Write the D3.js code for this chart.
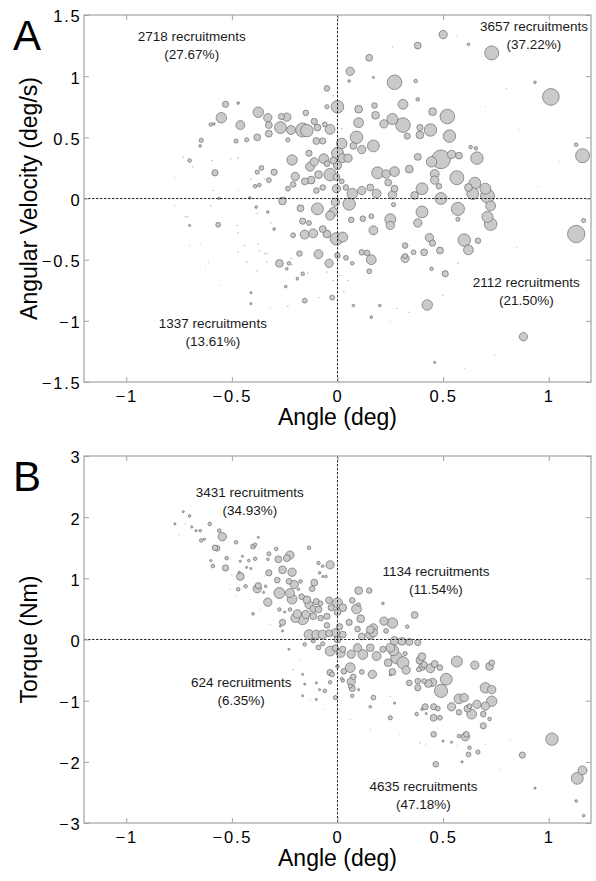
<!DOCTYPE html>
<html>
<head>
<meta charset="utf-8">
<script src="https://cdn.jsdelivr.net/npm/d3@7"></script>
<style>
  body { margin: 0; background: #fff; }
  svg { font-family: "Liberation Sans", Arial, Helvetica, sans-serif; }
</style>
</head>
<body>
<svg id="fig" width="596" height="881"></svg>
<script>
// Shared angle axis
const angleTicks = [-1, -0.5, 0, 0.5, 1];
const angleDomain = [-1.2, 1.2];

// Panel A: angular velocity vs angle, [angle (deg), velocity (deg/s), recruitments in bin]
const velocityTicks = [-1.5, -1, -0.5, 0, 0.5, 1, 1.5];
const velocityBins = [
  [0.50,1.34,59],[0.38,1.25,40],[0.62,1.26,6],[0.73,1.19,166],[0.15,1.15,40],[0.06,1.04,59],[0.055,0.96,6],[0.17,0.99,4],
  [0.27,0.95,181],[0.37,0.96,11],[0.935,0.95,6],[1.01,0.83,237],[0.38,0.81,11],[-0.05,0.90,27],[0.00,0.75,133],[-0.05,0.75,15],
  [0.10,0.73,51],[0.175,0.76,27],[0.31,0.77,82],[0.45,0.71,51],[0.52,0.67,181],[0.26,0.65,104],[0.22,0.61,59],[0.31,0.60,181],
  [0.39,0.58,33],[0.39,0.52,51],[0.44,0.56,133],[0.33,0.51,33],[0.53,0.51,133],[0.655,0.41,11],[0.49,0.32,300],[0.445,0.30,93],
  [0.54,0.36,59],[0.575,0.35,40],[0.66,0.33,133],[0.63,0.42,11],[1.13,0.44,11],[1.16,0.35,166],[0.38,0.34,40],[0.34,0.24,51],
  [0.27,0.22,82],[0.23,0.20,59],[0.24,0.13,40],[0.46,0.20,68],[0.46,0.15,59],[0.48,0.10,27],[0.565,0.17,166],[0.65,0.125,120],
  [0.62,0.09,51],[0.64,0.04,120],[0.70,0.08,104],[0.71,0.02,166],[0.725,-0.06,82],[0.40,0.08,120],[0.365,0.025,51],[0.26,0.03,59],
  [0.27,0.08,40],[0.49,0.00,120],[0.265,-0.05,15],[0.40,-0.11,120],[0.57,-0.085,147],[0.57,-0.17,15],[0.71,-0.15,104],[0.725,-0.21,133],
  [0.25,-0.17,104],[0.25,-0.22,59],[0.38,-0.20,59],[1.13,-0.29,255],[1.165,-0.18,15],[0.435,-0.32,59],[0.45,-0.365,33],[0.60,-0.34,133],
  [0.62,-0.42,82],[0.665,-0.345,27],[0.41,-0.44,40],[0.485,-0.425,40],[0.32,-0.385,27],[0.32,-0.49,59],[0.32,-0.47,20],[0.51,-0.615,33],
  [0.445,-0.575,11],[0.425,-0.87,93],[0.88,-1.13,59],[0.46,-1.34,4],
  [-0.53,0.77,33],[-0.47,0.78,6],[-0.55,0.66,93],[-0.46,0.60,68],[-0.375,0.705,93],[-0.33,0.66,59],[-0.265,0.67,33],[-0.24,0.665,59],
  [-0.15,0.70,27],[-0.27,0.58,120],[-0.22,0.56,68],[-0.165,0.56,166],[-0.145,0.555,133],[-0.11,0.63,33],[-0.095,0.58,40],[-0.035,0.565,82],
  [-0.06,0.605,20],[-0.325,0.60,40],[-0.325,0.53,40],[-0.38,0.50,40],[-0.43,0.48,15],[-0.48,0.47,15],[-0.10,0.47,40],[-0.07,0.47,33],
  [-0.235,0.48,15],[0.02,0.45,93],[0.09,0.50,133],[0.18,0.68,51],[0.10,0.62,82],[0.075,0.43,40],[0.115,0.40,59],[0.17,0.43,120],
  [0.00,0.37,120],[-0.065,0.325,82],[0.025,0.33,68],[0.05,0.33,59],[-0.02,0.31,40],[-0.215,0.315,93],[-0.135,0.37,33],[-0.11,0.30,59],
  [-0.13,0.26,68],[-0.05,0.285,27],[0.00,0.27,59],[-0.035,0.195,133],[-0.09,0.195,51],[-0.005,0.175,40],[-0.20,0.18,59],[-0.125,0.15,51],
  [-0.155,0.14,40],[-0.07,0.09,27],[-0.10,0.065,27],[0.02,0.14,20],[-0.005,0.08,59],[0.04,0.09,27],[0.07,0.04,93],[0.055,-0.045,133],
  [0.115,0.065,59],[0.155,0.09,40],[0.185,0.04,68],[0.19,0.21,120],[-0.26,-0.02,51],[-0.175,-0.08,40],[-0.095,-0.085,120],[-0.02,-0.11,68],
  [-0.035,-0.14,68],[-0.01,-0.03,59],[-0.58,0.21,33],[-0.38,0.215,15],[-0.36,0.25,20],[-0.30,0.215,33],[-0.325,0.15,20],[-0.37,0.11,11],
  [-0.39,0.10,11],[-0.21,0.115,27],[-0.235,0.08,20],[-0.165,-0.185,33],[-0.135,-0.20,20],[-0.21,-0.30,20],[-0.155,-0.295,68],[-0.115,-0.285,68],
  [-0.07,-0.25,40],[-0.05,-0.29,51],[-0.005,-0.33,133],[0.025,-0.315,82],[0.065,-0.175,27],[0.12,-0.165,27],[0.16,-0.145,20],[0.17,-0.26,68],
  [-0.09,-0.455,68],[-0.18,-0.45,27],[-0.04,-0.53,59],[0.00,-0.465,27],[0.04,-0.485,20],[0.115,-0.44,27],[0.14,-0.445,27],[0.16,-0.50,82],
  [0.15,-0.595,20],[0.07,-0.53,11],[-0.275,-0.53,51],[-0.23,-0.53,11],[-0.565,-0.215,20],[-0.70,-0.22,4],[-0.65,0.43,6],[-0.645,0.475,15],
  [-0.60,0.605,11],[-0.585,0.61,6],[-0.70,0.31,11],[-0.56,0.00,6],[-0.415,0.005,6],[-0.245,-0.72,6],[-0.19,-0.655,6],[-0.155,-0.835,20],
  [-0.025,-0.81,20],[0.075,-0.875,6],[0.20,-0.875,6],[0.16,-0.97,6],[-0.41,-0.86,4],[-0.41,-0.77,4],[-0.30,-0.25,6],[-0.385,-0.07,6],
  [-0.33,-0.11,6],[-0.24,-0.575,6],[0.36,-0.44,20],[-0.165,-0.615,11],
  [-0.72,-0.15,2],[-0.71,-0.15,2],[-0.77,-0.06,1],[-0.60,-0.06,2],[-0.475,-0.22,2],[-0.65,-0.37,1],[-0.47,-0.44,2],[-0.43,-0.52,2],
  [-0.375,-0.37,2],[-0.38,-0.59,2],[-0.335,-0.52,2],[-0.335,-0.45,2],[-0.625,-0.56,1],[-0.61,-0.52,1],[-0.70,-0.385,1],[-0.235,-0.88,2],
  [-0.32,-0.90,1],[-0.56,-0.71,1],[-0.73,0.34,2],[-0.685,0.26,2],[0.60,-1.39,1],[0.50,-0.79,2],[0.57,-0.53,2],[0.01,-0.63,2],
  [0.05,-0.67,2],[0.03,-0.76,2],[-0.05,-0.60,2],[-0.02,-0.67,2],[-0.09,-0.81,2],[-0.19,-0.67,2],[-0.14,-0.61,2],[-0.16,-0.63,2],
  [0.28,-0.90,2],[0.34,-0.93,2],[0.25,-1.01,1],[0.745,-1.28,1],[0.26,1.24,2],[0.565,1.33,1],[0.01,-1.16,1],[0.86,0.56,1],
  [-0.02,0.84,2],[0.02,0.57,2],[-0.41,0.16,2],[-0.345,0.16,2],[-0.505,0.325,2],[-0.47,0.33,2],[-0.595,0.31,2],[-0.59,0.065,2],
  [-0.47,0.065,1],[-0.38,-0.12,2],[-0.315,-0.20,2],[-0.47,-0.28,2],[-0.44,-0.385,2],[-0.37,-0.43,2],[-0.345,-0.45,2],[-0.22,-0.49,2],
  [-0.215,-0.54,2],[-0.77,0.17,1],[0.80,0.90,1],[0.70,0.75,1],[0.95,0.10,1],[0.85,-0.40,1],[1.05,0.30,1],[0.90,-0.75,1]
];
const velocityNotes = [
  { angle: -0.69, value: 1.29, lines: ["2718 recruitments", "(27.67%)"] },
  { angle: 0.93, value: 1.37, lines: ["3657 recruitments", "(37.22%)"] },
  { angle: -0.59, value: -1.06, lines: ["1337 recruitments", "(13.61%)"] },
  { angle: 0.894, value: -0.72, lines: ["2112 recruitments", "(21.50%)"] }
];

// Panel B: torque vs angle, [angle (deg), torque (Nm), recruitments in bin]
const torqueTicks = [-3, -2, -1, 0, 1, 2, 3];
const torqueBins = [
  [-0.70,2.02,6],[-0.73,2.09,4],[-0.77,1.89,4],[-0.69,1.84,4],[-0.67,1.78,4],[-0.65,1.78,6],[-0.605,1.89,11],[-0.56,1.78,11],
  [-0.545,1.68,59],[-0.645,1.62,11],[-0.63,1.64,4],[-0.48,1.59,11],[-0.57,1.49,27],[-0.58,1.50,27],[-0.525,1.33,11],[-0.59,1.20,11],
  [-0.53,1.17,33],[-0.46,1.03,51],[-0.47,0.82,11],[-0.435,0.87,11],[-0.40,1.52,20],[-0.39,1.55,11],[-0.375,1.67,4],[-0.42,1.29,6],
  [-0.39,1.32,11],[-0.41,1.16,4],[-0.375,0.88,33],[-0.38,0.83,59],[-0.33,0.61,59],[-0.285,0.97,27],[-0.325,1.09,33],[-0.28,1.31,40],
  [-0.26,1.14,51],[-0.24,1.33,40],[-0.225,1.38,59],[-0.215,1.10,59],[-0.325,1.40,15],[-0.29,1.48,11],[-0.33,1.31,6],[-0.275,0.76,104],
  [-0.225,0.76,68],[-0.215,0.66,82],[-0.205,0.90,59],[-0.23,0.95,27],[-0.40,0.42,6],[-0.26,0.28,33],[-0.275,0.49,11],[-0.25,0.45,4],
  [-0.20,0.35,68],[-0.225,0.49,11],[-0.35,0.77,4],[-0.34,0.87,6],[-0.27,0.22,4],[-0.26,0.14,4],[-0.465,1.10,4],[-0.45,1.36,4],
  [-0.43,1.18,4],[-0.46,1.28,4],[-0.23,-0.16,4],[-0.21,-0.49,2],[-0.60,1.29,4],
  [-0.135,1.50,11],[-0.035,1.22,59],[-0.09,1.25,11],[-0.07,1.20,6],[-0.085,1.09,6],[-0.055,1.03,6],[-0.07,1.03,4],[-0.11,0.93,40],
  [-0.12,0.83,27],[-0.175,0.95,11],[-0.185,0.82,6],[-0.17,0.70,27],[-0.145,0.65,51],[-0.135,0.57,59],[-0.10,0.62,33],[-0.115,0.50,40],
  [-0.09,0.49,40],[-0.08,0.59,20],[-0.165,0.34,120],[-0.19,0.42,59],[-0.15,0.41,59],[-0.115,0.38,40],[-0.08,0.35,27],[-0.05,0.38,33],
  [-0.04,0.64,40],[0.00,0.60,82],[0.025,0.52,51],[0.00,0.45,40],[-0.03,0.52,33],[0.10,0.80,51],[0.15,0.80,27],[0.07,0.64,27],
  [0.09,0.50,82],[0.11,0.34,51],[0.055,0.28,33],[0.01,0.21,33],[-0.05,0.23,27],[0.095,0.17,27],[0.155,0.16,51],[0.17,0.19,59],
  [0.22,0.30,59],[0.26,0.27,93],[0.365,0.40,40],[0.33,0.21,11],[0.23,0.14,20],[0.10,0.57,11],[0.215,0.59,6],
  [-0.135,0.08,82],[-0.10,0.08,68],[-0.07,0.08,68],[-0.04,0.10,40],[-0.01,0.11,59],[0.025,0.08,40],[0.115,0.05,40],[0.155,0.08,68],
  [0.17,0.11,59],[0.00,0.00,40],[-0.035,-0.19,82],[-0.01,-0.14,33],[0.015,-0.22,68],[0.025,-0.16,33],[0.065,-0.24,59],[0.095,-0.135,59],
  [0.12,-0.245,82],[0.155,-0.135,51],[0.185,-0.27,68],[0.215,-0.16,33],[0.25,-0.135,68],[0.265,-0.18,93],[0.27,-0.02,59],[0.305,-0.03,51],
  [0.34,-0.04,40],[0.38,-0.05,33],[0.28,-0.30,120],[-0.09,-0.13,20],[-0.155,-0.08,11],[-0.115,-0.02,15],[-0.07,-0.07,15],
  [0.06,-0.46,82],[0.03,-0.52,27],[0.00,-0.44,11],[0.115,-0.53,20],[0.165,-0.57,59],[0.065,-0.69,59],[0.07,-0.80,33],[-0.025,-0.57,20],
  [-0.035,-0.70,11],[-0.06,-0.84,11],[-0.01,-0.95,15],[0.025,-0.67,11],[0.17,-0.95,20],[0.155,-1.10,6],[0.25,-1.28,15],[-0.155,-0.73,4],
  [-0.165,-0.57,4],[-0.10,-0.71,4],[-0.085,-0.82,4],[-0.165,-0.92,4],[0.10,-0.82,4],[-0.10,-0.98,4],[0.00,-1.19,3],
  [0.32,-0.23,15],[0.24,-0.38,51],[0.31,-0.38,120],[0.325,-0.50,59],[0.26,-0.53,40],[0.34,-0.71,27],[0.39,-0.34,51],[0.40,-0.45,40],
  [0.40,-0.28,51],[0.385,-0.49,20],[0.41,-0.41,33],[0.38,-0.68,27],[0.41,-0.68,20],[0.38,-0.79,33],[0.43,-0.72,51],[0.45,-0.70,59],
  [0.44,-0.47,68],[0.46,-0.40,40],[0.485,-0.46,27],[0.515,-0.65,120],[0.49,-0.84,147],[0.565,-0.36,104],[0.65,-0.42,59],[0.72,-0.44,51],
  [0.73,-0.38,27],[0.575,-0.97,82],[0.60,-0.95,59],[0.54,-1.10,59],[0.575,-1.19,27],[0.615,-1.13,40],[0.635,-1.22,82],[0.625,-1.09,20],
  [0.66,-1.06,59],[0.70,-1.09,59],[0.73,-1.01,93],[0.70,-0.79,93],[0.73,-0.82,59],[0.69,-1.22,27],[0.72,-1.30,11],[0.69,-1.41,33],
  [0.455,-1.10,33],[0.475,-1.13,20],[0.415,-1.10,33],[0.485,-1.28,20],[0.455,-1.28,40],[0.375,-1.22,11],[0.42,-1.21,4],[0.40,-1.14,6],
  [0.605,-1.59,59],[0.61,-1.55,27],[0.575,-1.58,11],[0.62,-1.88,20],[0.665,-1.84,15],[0.625,-1.77,11],[0.54,-1.68,4],[0.50,-1.66,4],
  [0.455,-1.55,27],[0.465,-2.04,27],[0.59,-2.00,4],[0.39,-1.69,2],[1.015,-1.63,133],[0.875,-1.89,33],[1.135,-2.27,120],[1.16,-2.14,68],
  [0.935,-2.43,4],[1.13,-2.64,6],[1.165,-2.88,6],[0.25,-0.93,2],[0.27,-1.04,4],[0.25,-0.58,4],[0.06,-0.76,15],[0.07,-0.92,11],
  [-0.035,-0.54,33],[0.075,-0.61,27],[0.02,-0.64,6],
  [-0.72,1.89,1],[-0.75,1.71,1],[-0.51,0.82,1],[-0.415,0.65,1],[-0.37,0.49,1],[-0.32,0.245,1],[-0.18,-0.33,1],[-0.13,-0.98,1],
  [-0.06,-1.14,1],[0.06,-1.31,1],[0.155,-1.47,1],[0.295,-1.55,1],[0.415,-1.71,1],[0.565,-1.74,1],[0.58,-1.99,1],[0.70,-1.71,1],
  [0.77,-2.12,1],[0.82,-1.63,1],[0.485,-2.28,1],[-0.37,1.50,1],[-0.345,1.04,1],[-0.50,1.06,1],[-0.48,0.72,1]
];
const torqueNotes = [
  { angle: -0.415, value: 2.33, lines: ["3431 recruitments", "(34.93%)"] },
  { angle: 0.466, value: 1.03, lines: ["1134 recruitments", "(11.54%)"] },
  { angle: -0.456, value: -0.78, lines: ["624 recruitments", "(6.35%)"] },
  { angle: 0.407, value: -2.48, lines: ["4635 recruitments", "(47.18%)"] }
];

const svg = d3.select("#fig");
const plotLeft = 84, plotRight = 591;
const radius = d3.scaleSqrt().domain([0, 300]).range([0, 9.4]);

const frameColor = "#a2a2a2";
const tickFont = 16.5;

function drawPanel(opt) {
  const x = d3.scaleLinear().domain(angleDomain).range([plotLeft, plotRight]);
  const y = d3.scaleLinear().domain(opt.yDomain).range([opt.bottom, opt.top]);
  const g = svg.append("g");
  const clipId = "clip-" + opt.letter;

  g.append("clipPath").attr("id", clipId)
    .append("rect")
    .attr("x", plotLeft).attr("y", opt.top)
    .attr("width", plotRight - plotLeft).attr("height", opt.bottom - opt.top);

  // bubbles: biggest first so small bins stay visible
  const bins = opt.bins.slice().sort((a, b) => b[2] - a[2]);
  g.append("g").attr("clip-path", `url(#${clipId})`)
    .selectAll("circle").data(bins).join("circle")
    .attr("cx", d => x(d[0]))
    .attr("cy", d => y(d[1]))
    .attr("r", d => radius(d[2]))
    .attr("fill", d => radius(d[2]) < 1 ? "#b9b9b9" : "#cacaca")
    .attr("stroke", d => radius(d[2]) < 1 ? "none" : "#595959")
    .attr("stroke-width", 0.6);

  // zero reference lines
  g.append("line")
    .attr("x1", x(0)).attr("x2", x(0)).attr("y1", opt.top).attr("y2", opt.bottom)
    .attr("stroke", "#111").attr("stroke-width", 0.9).attr("stroke-dasharray", "2.5,1.5");
  g.append("line")
    .attr("x1", plotLeft).attr("x2", plotRight).attr("y1", y(0)).attr("y2", y(0))
    .attr("stroke", "#111").attr("stroke-width", 0.9).attr("stroke-dasharray", "2.5,1.5");

  // axes with inward ticks on all four sides
  const fmt = d3.format("");
  const axes = [
    { ax: d3.axisBottom(x).tickValues(angleTicks).tickSize(-5).tickPadding(8.5).tickFormat(fmt), t: `translate(0,${opt.bottom})` },
    { ax: d3.axisTop(x).tickValues(angleTicks).tickSize(-5).tickFormat(""), t: `translate(0,${opt.top})` },
    { ax: d3.axisLeft(y).tickValues(opt.yTicks).tickSize(-5).tickPadding(2.5).tickFormat(fmt), t: `translate(${plotLeft},0)` },
    { ax: d3.axisRight(y).tickValues(opt.yTicks).tickSize(-5).tickFormat(""), t: `translate(${plotRight},0)` }
  ];
  axes.forEach((a, i) => {
    const ag = g.append("g").attr("transform", a.t).call(a.ax);
    ag.select(".domain").remove();
    ag.selectAll(".tick line").attr("stroke", frameColor).attr("stroke-width", 1);
    ag.selectAll(".tick text")
      .attr("fill", "#000")
      .style("font-family", "'Liberation Sans', Arial, sans-serif")
      .style("font-size", tickFont + "px")
      .style("letter-spacing", "1.8px");
    if (i === 2) ag.selectAll(".tick text").attr("dy", "0.42em");
  });

  // frame
  g.append("rect")
    .attr("x", plotLeft).attr("y", opt.top)
    .attr("width", plotRight - plotLeft).attr("height", opt.bottom - opt.top)
    .attr("fill", "none").attr("stroke", frameColor).attr("stroke-width", 1.2);

  // quadrant counts
  opt.notes.forEach(n => {
    const t = g.append("text")
      .attr("x", x(n.angle)).attr("y", y(n.value))
      .attr("text-anchor", "middle")
      .attr("fill", "#1a1a1a")
      .style("font-size", "13.5px");
    n.lines.forEach((line, k) => {
      t.append("tspan").attr("x", x(n.angle)).attr("dy", k === 0 ? 0 : 18).text(line);
    });
  });

  // axis titles
  g.append("text")
    .attr("x", x(0)).attr("y", opt.bottom + 43)
    .attr("text-anchor", "middle")
    .style("font-size", "23px")
    .text("Angle (deg)");
  g.append("text")
    .attr("transform", `translate(36.5,${(opt.top + opt.bottom) / 2}) rotate(-90)`)
    .attr("text-anchor", "middle")
    .style("font-size", "23px")
    .text(opt.yLabel);

  // panel letter
  g.append("text")
    .attr("x", 13).attr("y", opt.top + 35)
    .style("font-size", "42px")
    .text(opt.letter);
}

drawPanel({
  letter: "A", top: 15, bottom: 382, yDomain: [-1.5, 1.5], yTicks: velocityTicks,
  bins: velocityBins, notes: velocityNotes, yLabel: "Angular Velocity (deg/s)"
});
drawPanel({
  letter: "B", top: 456, bottom: 823, yDomain: [-3, 3], yTicks: torqueTicks,
  bins: torqueBins, notes: torqueNotes, yLabel: "Torque (Nm)"
});
</script>
</body>
</html>
